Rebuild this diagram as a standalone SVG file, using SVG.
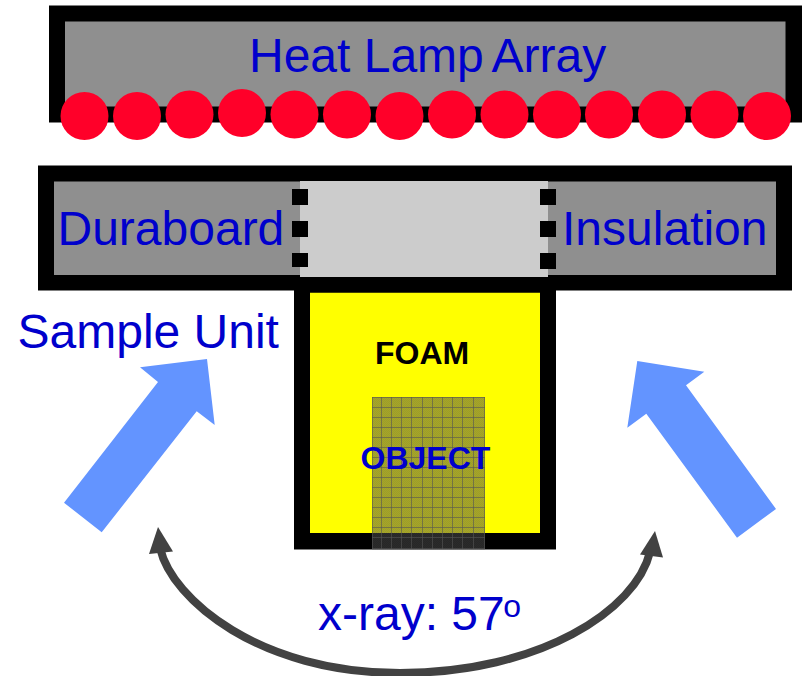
<svg xmlns="http://www.w3.org/2000/svg" width="805" height="676" viewBox="0 0 805 676">
<style>
text{font-family:"Liberation Sans",Arial,sans-serif;fill:#0000cc}
.big{font-size:48px}
.bold{font-size:32px;font-weight:bold}
.black{fill:#000}
.frame{fill:#000}
.grey{fill:#8f8f8f}
.lamp{fill:#ff0029}
.ray{fill:#6394ff}
.sq{fill:#000}
.grid{stroke:#555;stroke-width:1;fill:none;opacity:.6}
</style>
<defs>
<pattern id="chk" width="2" height="2" patternUnits="userSpaceOnUse">
<rect width="2" height="2" fill="#4e4e4e" fill-opacity=".5"/>
<rect width="1" height="1" fill="#4e4e4e" fill-opacity=".1"/>
<rect x="1" y="1" width="1" height="1" fill="#4e4e4e" fill-opacity=".1"/>
</pattern>
</defs>
<rect width="805" height="676" fill="#fff"/>
<g id="lamp-array">
<rect class="frame" x="49" y="5.5" width="753" height="117"/>
<rect class="grey" x="65" y="21.5" width="720.5" height="85"/>
<g class="lamp">
<circle cx="84.5" cy="116" r="24"/><circle cx="137" cy="116" r="24"/><circle cx="189.500" cy="114.500" r="24"/><circle cx="242" cy="113" r="24"/><circle cx="294.500" cy="114.500" r="24"/><circle cx="347" cy="114.500" r="24"/><circle cx="399.500" cy="116" r="24"/><circle cx="452" cy="114.500" r="24"/><circle cx="504.500" cy="114.500" r="24"/><circle cx="557" cy="114.500" r="24"/><circle cx="609" cy="114.500" r="24"/><circle cx="662" cy="114.500" r="24"/><circle cx="714.500" cy="114.500" r="24"/><circle cx="767" cy="116" r="24"/>
</g>
<text class="big" x="249" y="71.500">Heat Lamp <tspan dx="-3">Array</tspan></text>
</g>
<g id="sample-unit">
<rect class="frame" x="294" y="277" width="262" height="272.500"/>
<rect fill="#ffff00" x="310" y="292.500" width="230" height="240.500"/>
<text class="bold black" x="375" y="363.500">FOAM</text>
</g>
<g id="duraboard">
<rect class="frame" x="38" y="165.500" width="754" height="125"/>
<rect class="grey" x="54" y="181.500" width="722" height="93.500"/>
<rect fill="#ccc" x="300" y="181" width="248" height="96"/>
<g class="sq">
<rect x="292" y="189" width="16" height="16"/><rect x="292" y="221" width="16" height="16"/><rect x="292" y="253" width="16" height="14"/>
<rect x="540" y="189" width="16" height="16"/><rect x="540" y="221" width="16" height="16"/><rect x="540" y="253" width="16" height="16"/>
</g>
<text class="big" x="57.500" y="244.500">Duraboard</text>
<text class="big" x="562" y="244.500">Insulation</text>
</g>
<rect fill="#000" x="294" y="277" width="262" height="15.500"/>
<g id="object">
<rect x="372" y="397" width="113" height="152.500" fill="url(#chk)"/>
<path class="grid" d="M372 397.500H485M372 407.500H485M372 417.500H485M372 427.500H485M372 437.500H485M372 447.500H485M372 457.500H485M372 467.500H485M372 477.500H485M372 487.500H485M372 497.500H485M372 507.500H485M372 517.500H485M372 527.500H485M372 537.500H485M372 548.500H485M372.500 397V549M381.500 397V549M391.500 397V549M401.500 397V549M411.500 397V549M422.500 397V549M432.500 397V549M442.500 397V549M452.500 397V549M462.500 397V549M473.500 397V549M484.500 397V549"/>
<text class="bold" x="360.500" y="468.500">OBJECT</text>
</g>
<g id="sample-label"><text class="big" x="17.500" y="347.500">Sample Unit</text></g>
<g id="connectors">
<polygon class="ray" points="64,502.700 158,382 140,367.300 207,359 214.700,425 196.700,411.300 101.700,532.300"/>
<polygon class="ray" points="776,509 686,385.300 704.300,371.700 637.300,361 627.300,427.700 646.300,413.700 737,537.700"/>
<path d="M160 548C172 600 260 673 400 673C540 673 636 610 650 552" fill="none" stroke="#424242" stroke-width="8"/>
<polygon fill="#424242" points="158,527 149,554 173,551.500"/>
<polygon fill="#424242" points="655,531 640,554.500 663,557.500"/>
</g>
<g id="angle-label"><text class="big" x="318" y="630">x-ray: 57<tspan font-size="32" dy="-13" dx="-1.500">o</tspan></text></g>
</svg>
